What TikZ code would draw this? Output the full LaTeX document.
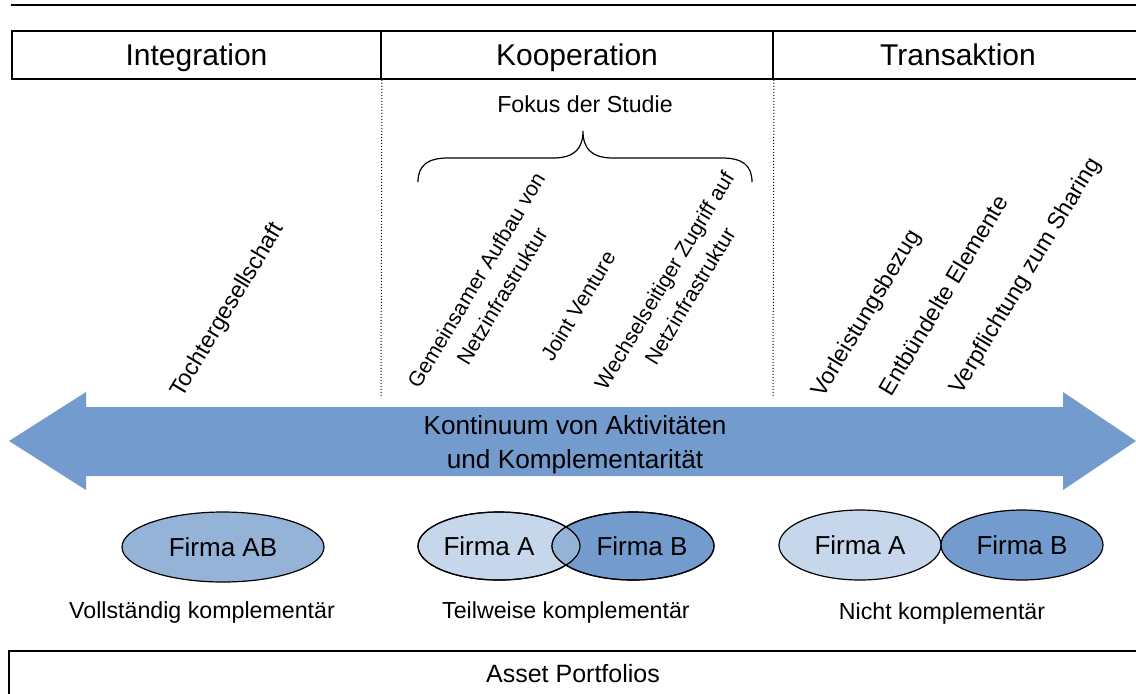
\documentclass[tikz,border=0pt]{standalone}
\usepackage{fontspec}
\setmainfont{Liberation Sans}
\usetikzlibrary{shapes.geometric}
\definecolor{arrowblue}{HTML}{739BCD}
\definecolor{midblue}{HTML}{95B3D7}
\definecolor{lightblue}{HTML}{C6D6EB}

\begin{document}
\begin{tikzpicture}[x=0.5pt,y=-0.5pt,
  cell/.style={draw,line width=0.9pt,minimum height=24pt,inner sep=0pt,text height=12pt,text depth=1.5pt,font=\fontsize{15}{18}\selectfont},
  txt/.style={font=\fontsize{11.6}{14}\selectfont},
  act/.style={txt,rotate=59,align=center},
  coop/.style={act,font=\fontsize{10.6}{15}\selectfont},
  firm/.style={ellipse,draw,line width=0.6pt,minimum width=81pt,minimum height=34pt,inner sep=0pt,font=\fontsize{13}{15}\selectfont}]
\clip (0,0) rectangle (1136,693);

\draw[line width=1.1pt] (11,5) -- (1145,5);

% Kopfzeile
\node[cell,minimum width=184.5pt] (integ) at (196.5,55) {Integration};
\node[cell,minimum width=196pt] (koop) at (577,55) {Kooperation};
\node[cell,minimum width=185pt] (trans) at (958,55) {Transaktion};

\coordinate (d1) at (381,398);
\coordinate (d2) at (773,398);
\draw[densely dotted,line width=0.5pt] (integ.south east) -- (d1);
\draw[densely dotted,line width=0.5pt] (koop.south east) -- (d2);

\node[txt] (fokus) at (585,104) {Fokus der Studie};
\draw[line width=0.6pt] (418,182) .. controls (418,165) and (428,158) .. (448,158) -- (553,158)
  .. controls (575,158) and (583,148) .. (583,131) .. controls (583,148) and (591,158) .. (613,158)
  -- (722,158) .. controls (742,158) and (752,165) .. (752,182);

% Aktivitaeten
\node[act] (tochter) at (228,310) {Tochtergesellschaft};
\node[coop] (aufbau) at (489,288) {Gemeinsamer Aufbau von\\Netzinfrastruktur};
\node[coop] (jv) at (578,306) {Joint Venture};
\node[coop] (zugriff) at (677,288) {Wechselseitiger Zugriff auf\\Netzinfrastruktur};
\node[act] (vorl) at (867,314) {Vorleistungsbezug};
\node[act] (entb) at (943,295) {Entbündelte Elemente};
\node[act] (verpf) at (1026,276) {Verpflichtung zum Sharing};

% Pfeil
\fill[arrowblue] (9,441) -- (86,392) -- (86,407) -- (1063,407) -- (1063,392) -- (1136,441)
  -- (1063,490) -- (1063,476) -- (86,476) -- (86,490) -- cycle;
\node[align=center,font=\fontsize{13.1}{17}\selectfont] (kont) at (575,445) {Kontinuum von Aktivitäten\\und Komplementarität};

% Firmen
\node[firm,fill=midblue,minimum width=101pt,minimum height=35pt] (fab) at (223,547) {Firma AB};
\node[firm,fill=lightblue] (fa1) at (499,546) {\hspace*{-10pt}Firma A};
\node[firm,fill=arrowblue] (fb1) at (633,546) {\hspace*{9pt}Firma B};
\begin{scope}
  \clip (fa1.center) ellipse [x radius=40.5pt, y radius=17pt];
  \fill[midblue] (fb1.center) ellipse [x radius=40.5pt, y radius=17pt];
\end{scope}
\draw[line width=0.6pt] (fa1.center) ellipse [x radius=40.5pt, y radius=17pt];
\draw[line width=0.6pt] (fb1.center) ellipse [x radius=40.5pt, y radius=17pt];
\node[firm,fill=lightblue,minimum height=35pt] (fa2) at (860,545) {Firma A};
\node[firm,fill=arrowblue,minimum height=35pt] (fb2) at (1022,545) {Firma B};

\node[txt] (voll) at (202,612) {Vollständig komplementär};
\node[txt] (teil) at (566,612) {Teilweise komplementär};
\node[txt] (nicht) at (942,613) {Nicht komplementär};

\node[draw,line width=0.9pt,minimum width=564pt,minimum height=23pt,anchor=north,font=\fontsize{12.5}{15}\selectfont] (assets) at (573,650) {Asset Portfolios};
\end{tikzpicture}
\end{document}
